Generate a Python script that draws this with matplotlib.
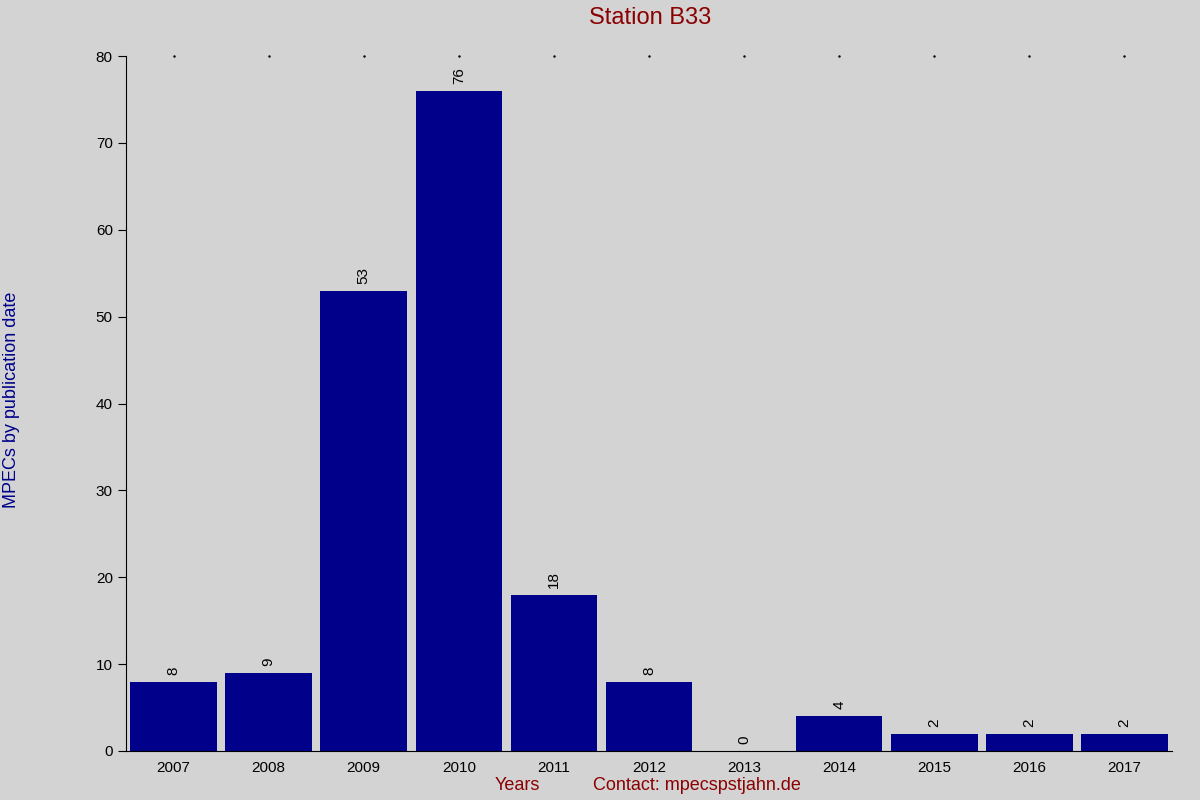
import matplotlib
matplotlib.use("Agg")
import matplotlib.pyplot as plt

years = ["2007","2008","2009","2010","2011","2012","2013","2014","2015","2016","2017"]
counts = [8, 9, 53, 76, 18, 8, 0, 4, 2, 2, 2]

plt.rcParams['font.family'] = ['Liberation Sans', 'DejaVu Sans']
fig = plt.figure(figsize=(12, 8), dpi=100, facecolor='#d3d3d3')
ax = fig.add_axes([126/1200, 1-751/800, (1172-126)/1200, (751-56)/800])
ax.set_facecolor('#d3d3d3')
x = list(range(len(years)))
ax.bar(x, counts, width=0.91, color='#00008b')
for xi, c in zip(x, counts):
    ax.text(xi, c + 0.8, str(c), rotation=90, ha='center', va='bottom', fontsize=11, color='black')
ax.set_xlim(-0.5, len(years) - 0.5)
ax.set_ylim(0, 80)
ax.set_xticks(x)
ax.set_xticklabels(years, fontsize=11)
ax.tick_params(axis='x', length=0, pad=7)
ax.set_yticks(range(0, 81, 10))
ax.tick_params(axis='y', direction='out', length=6, labelsize=11)
for s in ['top', 'right']:
    ax.spines[s].set_visible(False)
for xi in x:
    ax.plot(xi, 80, marker='.', markersize=1.5, color='black', clip_on=False)
fig.text(0.5417, 1-18/800, "Station B33", ha='center', va='center', fontsize=17, color='#8b0000')
fig.text(12/1200, 0.5, "MPECs by publication date", rotation=90, ha='center', va='center', fontsize=13, color='#00008b')
fig.text(517/1200, 1-786/800, "Years", ha='center', va='center', fontsize=13, color='#8b0000')
fig.text(697/1200, 1-786/800, "Contact: mpecspstjahn.de", ha='center', va='center', fontsize=13, color='#8b0000')
fig.savefig("out.png", dpi=100, facecolor=fig.get_facecolor())
